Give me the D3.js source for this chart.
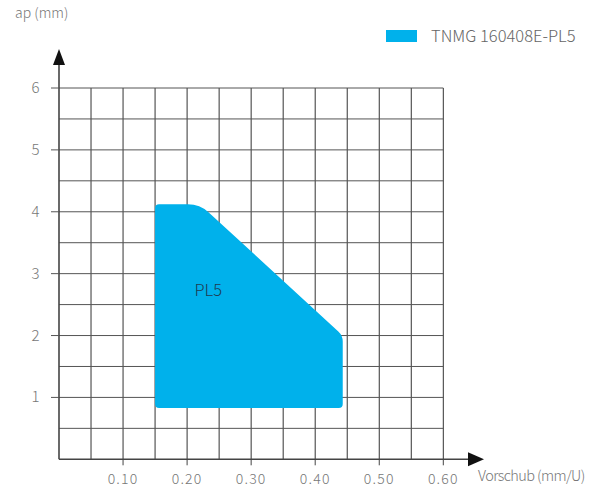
<!DOCTYPE html>
<html><head><meta charset="utf-8">
<script src="https://cdn.jsdelivr.net/npm/d3@7"></script>
<style>
body{margin:0;background:#fff;}
text{font-family:"Noto Sans CJK SC","Noto Sans",sans-serif;font-weight:300;}
</style></head>
<body><svg id="c" width="594" height="490"></svg>
<script>
const xTicks = [0.10, 0.20, 0.30, 0.40, 0.50, 0.60];
const yTicks = [1, 2, 3, 4, 5, 6];
const xGrid = [0.05,0.10,0.15,0.20,0.25,0.30,0.35,0.40,0.45,0.50,0.55,0.60];
const yGrid = [0.5,1,1.5,2,2.5,3,3.5,4,4.5,5,5.5,6];
const regionX = [0.15, 0.15, 0.22, 0.443, 0.443];
const regionY = [0.83, 4.12, 4.12, 2.0, 0.83];
const cornerR = [4, 4, 12, 6, 4];
const seriesName = "TNMG 160408E-PL5";
const regionLabel = "PL5";
const labelPos = [0.233, 2.64];

const svg = d3.select("#c");
const x = d3.scaleLinear().domain([0, 0.6]).range([59, 443.3]);
const y = d3.scaleLinear().domain([0, 6]).range([459.3, 88]);

// grid
svg.append("g").selectAll("line").data(xGrid).join("line")
  .attr("x1", d=>x(d)).attr("x2", d=>x(d)).attr("y1", y(0)).attr("y2", y(6))
  .attr("stroke", "#333").attr("stroke-width", 1);
svg.append("g").selectAll("line").data(yGrid).join("line")
  .attr("x1", x(0)).attr("x2", x(0.6)).attr("y1", d=>y(d)).attr("y2", d=>y(d))
  .attr("stroke", "#555").attr("stroke-width", 1);

// region with rounded corners
const pts = regionX.map((v,i)=>[x(v), y(regionY[i])]);
function rounded(p, r){
  let s = "";
  const n = p.length;
  for(let i=0;i<n;i++){
    const a = p[(i-1+n)%n], b = p[i], c = p[(i+1)%n];
    const d1 = Math.hypot(a[0]-b[0], a[1]-b[1]), d2 = Math.hypot(c[0]-b[0], c[1]-b[1]);
    const p1 = [b[0]+(a[0]-b[0])*r[i]/d1, b[1]+(a[1]-b[1])*r[i]/d1];
    const p2 = [b[0]+(c[0]-b[0])*r[i]/d2, b[1]+(c[1]-b[1])*r[i]/d2];
    s += (i===0?"M":"L")+p1[0]+","+p1[1]+"Q"+b[0]+","+b[1]+" "+p2[0]+","+p2[1];
  }
  return s+"Z";
}
svg.append("path").attr("d", rounded(pts, cornerR)).attr("fill", "#00b1eb");

svg.append("text").attr("x", x(labelPos[0])).attr("y", y(labelPos[1]))
  .attr("text-anchor","middle").attr("font-size",16.5).attr("fill","#1f3b52").text(regionLabel);

// axes
svg.append("line").attr("x1", x(0)).attr("x2", 470).attr("y1", y(0)).attr("y2", y(0))
  .attr("stroke","#444").attr("stroke-width",1.6);
svg.append("path").attr("d", `M468,${y(0)-7}L484,${y(0)}L468,${y(0)+7}Z`).attr("fill","#111");
svg.append("line").attr("x1", x(0)).attr("x2", x(0)).attr("y1", y(0)).attr("y2", 62)
  .attr("stroke","#444").attr("stroke-width",1.6);
svg.append("path").attr("d", `M${x(0)-6},65L${x(0)},49L${x(0)+6},65Z`).attr("fill","#111");

// ticks
svg.append("g").selectAll("line").data(xTicks).join("line")
  .attr("x1", d=>x(d)).attr("x2", d=>x(d)).attr("y1", y(0)).attr("y2", y(0)+6)
  .attr("stroke","#444");
svg.append("g").selectAll("line").data(yTicks).join("line")
  .attr("x1", x(0)-8).attr("x2", x(0)).attr("y1", d=>y(d)).attr("y2", d=>y(d))
  .attr("stroke","#555");
svg.append("g").selectAll("text").data(xTicks).join("text")
  .attr("x", d=>x(d)).attr("y", 484).attr("text-anchor","middle")
  .attr("font-size",14).attr("letter-spacing","1.2px").attr("fill","#777")
  .text(d=>d.toFixed(2));
svg.append("g").selectAll("text").data(yTicks).join("text")
  .attr("x", 39.5).attr("y", d=>y(d)+5).attr("text-anchor","end")
  .attr("font-size",15).attr("fill","#777").text(d=>d);

svg.append("text").attr("x",15).attr("y",18).attr("font-size",14).attr("fill","#777").text("ap (mm)");
svg.append("text").attr("x",478).attr("y",481).attr("font-size",14.5).attr("letter-spacing","-0.6px").attr("fill","#777").text("Vorschub (mm/U)");

// legend
svg.append("rect").attr("x",386).attr("y",30).attr("width",31).attr("height",12).attr("fill","#00b1eb");
svg.append("text").attr("x",431).attr("y",42).attr("font-size",16.5).attr("fill","#666").text(seriesName);
</script></body></html>
